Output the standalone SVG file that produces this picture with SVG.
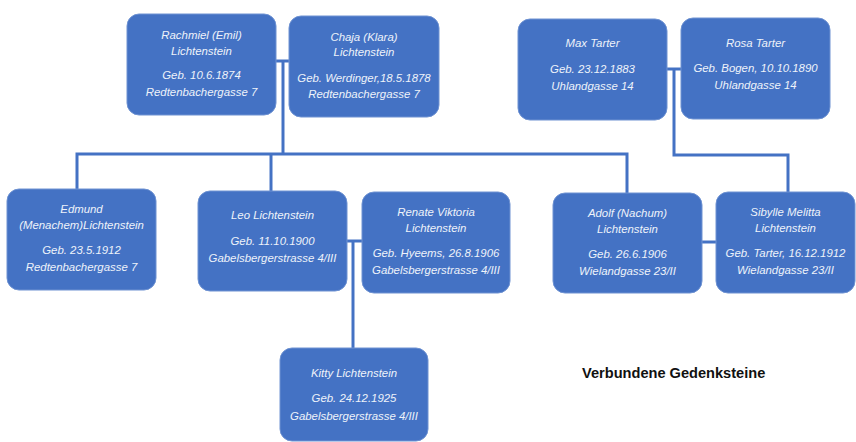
<svg xmlns="http://www.w3.org/2000/svg" width="856" height="442" viewBox="0 0 856 442">
<style>
.box{fill:#4472C4;stroke:#6E92D2;stroke-width:1}
.t{font-family:"Liberation Sans",Arial,sans-serif;font-style:italic;font-size:11.4px;fill:#EEF2FA;text-anchor:middle}
.ln{fill:none;stroke:#4472C4;stroke-width:3;stroke-linejoin:miter}
.title{font-family:"Liberation Sans",Arial,sans-serif;font-weight:bold;font-size:14.6px;fill:#111}
</style>
<rect width="856" height="442" fill="#fff"/>
<g id="connectors">
<polyline class="ln" points="276,61 289,61"/>
<polyline class="ln" points="283,61 283,154"/>
<polyline class="ln" points="77,189 77,154 627,154 627,193"/>
<polyline class="ln" points="271,154 271,191"/>
<polyline class="ln" points="667,69 681,69"/>
<polyline class="ln" points="674,69 674,155 788,155 788,192"/>
<polyline class="ln" points="347,241 362,241"/>
<polyline class="ln" points="353,241 353,348"/>
<polyline class="ln" points="702,242 716,242"/>
</g>
<g id="rachmiel">
<rect class="box" x="127" y="14" width="149" height="101" rx="12"/>
<text class="t" x="201.5" y="39">Rachmiel (Emil)</text>
<text class="t" x="201.5" y="55">Lichtenstein</text>
<text class="t" x="201.5" y="79">Geb. 10.6.1874</text>
<text class="t" x="201.5" y="96">Redtenbachergasse 7</text>
</g>
<g id="chaja">
<rect class="box" x="289" y="16" width="150" height="101" rx="12"/>
<text class="t" x="364" y="41">Chaja (Klara)</text>
<text class="t" x="364" y="56">Lichtenstein</text>
<text class="t" x="364" y="82">Geb. Werdinger,18.5.1878</text>
<text class="t" x="364" y="98">Redtenbachergasse 7</text>
</g>
<g id="max">
<rect class="box" x="518" y="19" width="149" height="101" rx="12"/>
<text class="t" x="592.5" y="47">Max Tarter</text>
<text class="t" x="592.5" y="73">Geb. 23.12.1883</text>
<text class="t" x="592.5" y="90">Uhlandgasse 14</text>
</g>
<g id="rosa">
<rect class="box" x="681" y="18" width="149" height="101" rx="12"/>
<text class="t" x="755.5" y="47">Rosa Tarter</text>
<text class="t" x="755.5" y="72">Geb. Bogen, 10.10.1890</text>
<text class="t" x="755.5" y="89">Uhlandgasse 14</text>
</g>
<g id="edmund">
<rect class="box" x="7" y="189" width="149" height="101" rx="12"/>
<text class="t" x="81.5" y="213">Edmund</text>
<text class="t" x="81.5" y="229">(Menachem)Lichtenstein</text>
<text class="t" x="81.5" y="254">Geb. 23.5.1912</text>
<text class="t" x="81.5" y="271">Redtenbachergasse 7</text>
</g>
<g id="leo">
<rect class="box" x="198" y="191" width="149" height="100" rx="12"/>
<text class="t" x="272.5" y="219">Leo Lichtenstein</text>
<text class="t" x="272.5" y="245">Geb. 11.10.1900</text>
<text class="t" x="272.5" y="262">Gabelsbergerstrasse 4/III</text>
</g>
<g id="renate">
<rect class="box" x="362" y="192" width="148" height="101" rx="12"/>
<text class="t" x="436" y="216">Renate Viktoria</text>
<text class="t" x="436" y="232">Lichtenstein</text>
<text class="t" x="436" y="257">Geb. Hyeems, 26.8.1906</text>
<text class="t" x="436" y="274">Gabelsbergerstrasse 4/III</text>
</g>
<g id="adolf">
<rect class="box" x="553" y="193" width="149" height="100" rx="12"/>
<text class="t" x="627.5" y="217">Adolf (Nachum)</text>
<text class="t" x="627.5" y="233">Lichtenstein</text>
<text class="t" x="627.5" y="258">Geb. 26.6.1906</text>
<text class="t" x="627.5" y="275">Wielandgasse 23/II</text>
</g>
<g id="sibylle">
<rect class="box" x="716" y="192" width="139" height="101" rx="12"/>
<text class="t" x="785.5" y="216">Sibylle Melitta</text>
<text class="t" x="785.5" y="232">Lichtenstein</text>
<text class="t" x="785.5" y="257">Geb. Tarter, 16.12.1912</text>
<text class="t" x="785.5" y="274">Wielandgasse 23/II</text>
</g>
<g id="kitty">
<rect class="box" x="280" y="348" width="148" height="93" rx="12"/>
<text class="t" x="354" y="377">Kitty Lichtenstein</text>
<text class="t" x="354" y="402">Geb. 24.12.1925</text>
<text class="t" x="354" y="420">Gabelsbergerstrasse 4/III</text>
</g>
<g id="title">
<text class="title" x="582" y="378">Verbundene Gedenksteine</text>
</g>
</svg>
